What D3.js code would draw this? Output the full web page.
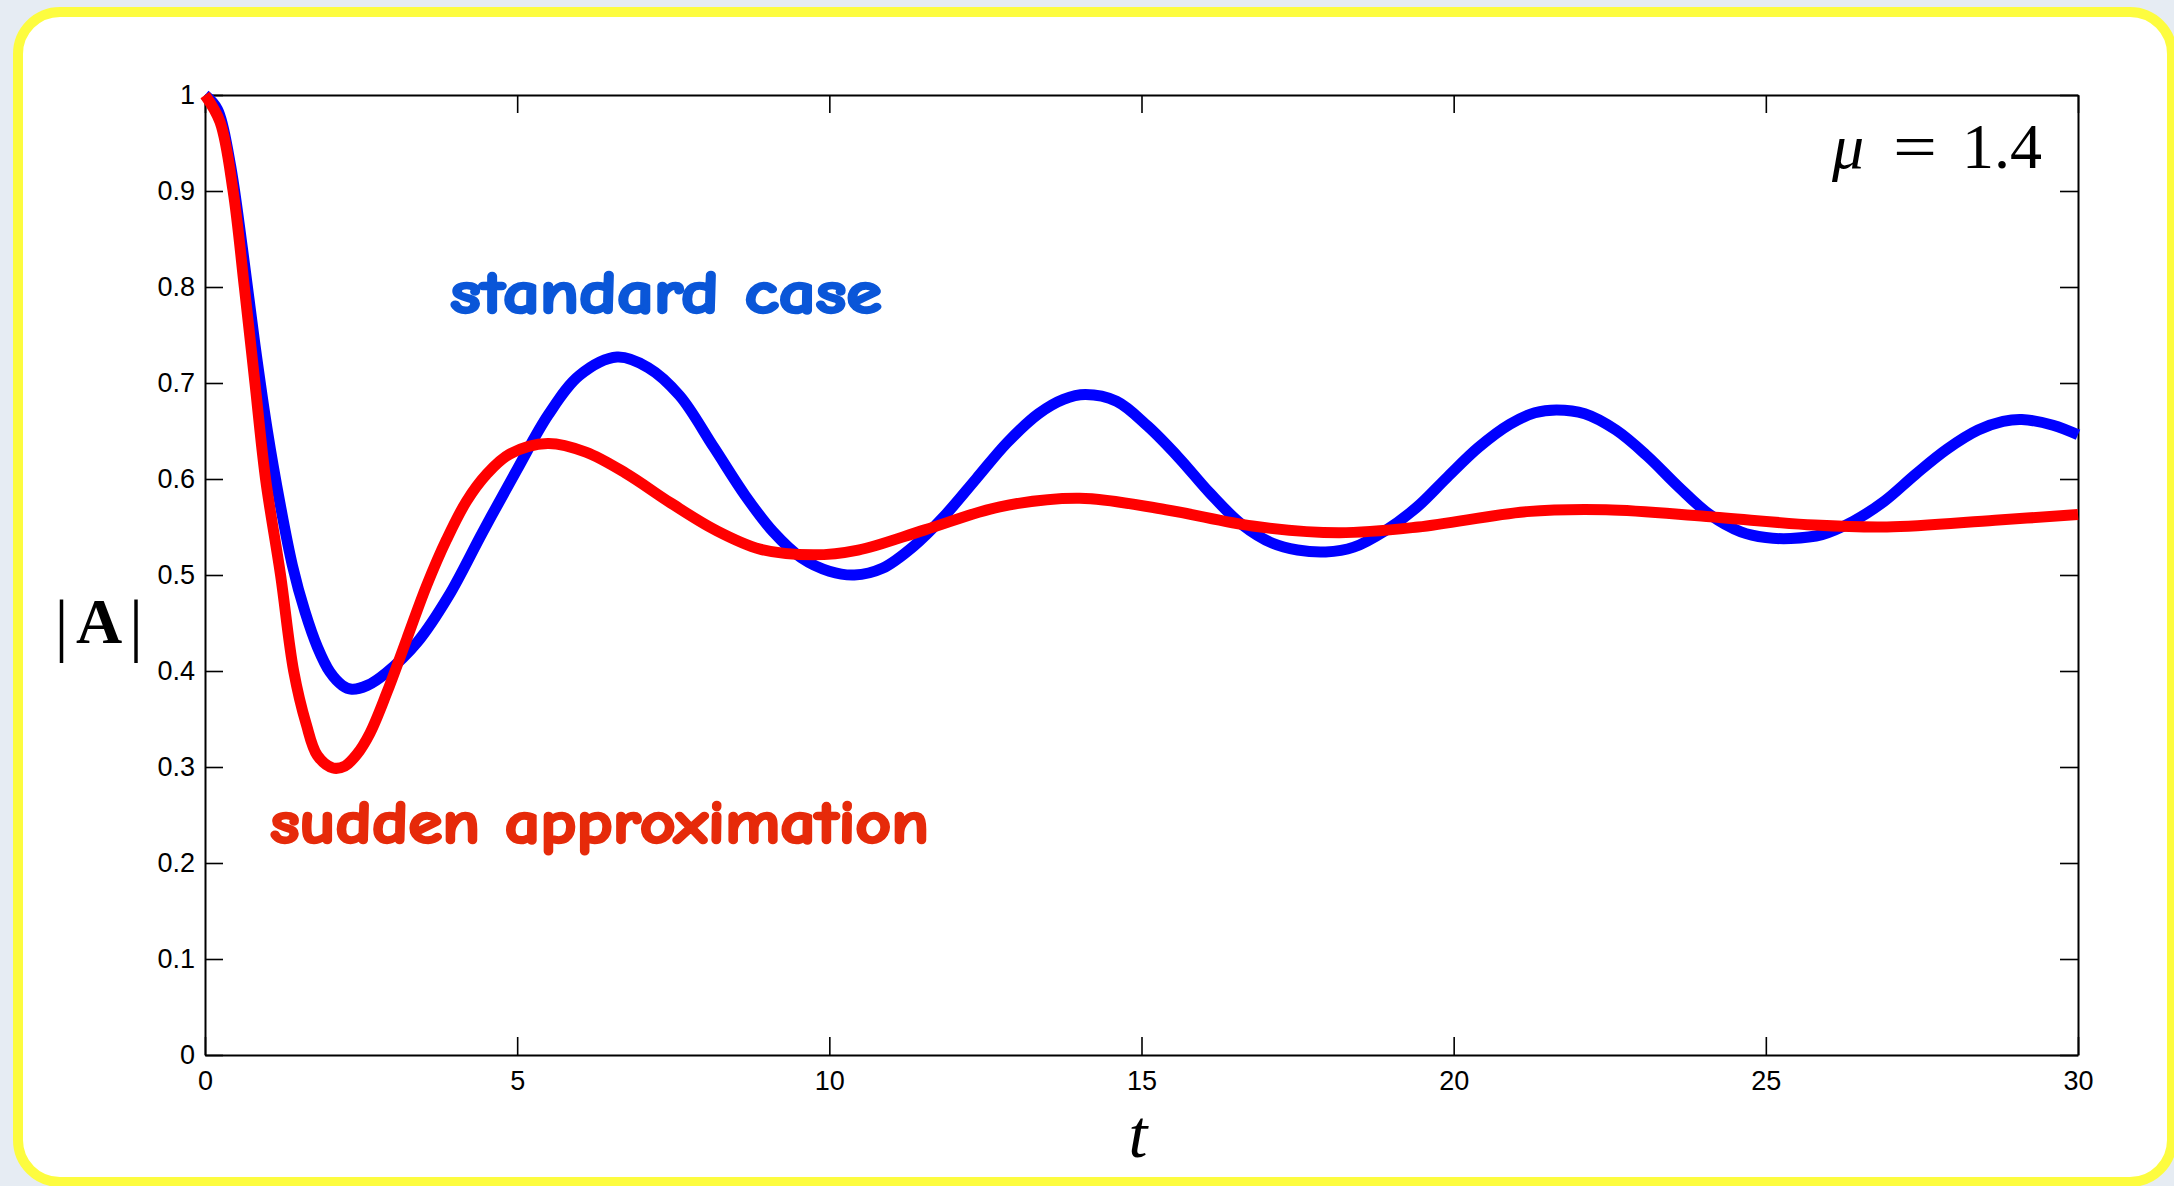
<!DOCTYPE html>
<html>
<head>
<meta charset="utf-8">
<script src="https://cdn.jsdelivr.net/npm/d3@7"></script>
<style>
  html, body { margin: 0; padding: 0; background: #e6ecf3; }
  svg { display: block; }
</style>
</head>
<body>
<svg id="chart" width="2174" height="1186"></svg>
<script>
// |A|(t) for mu = 1.4 — standard case
const standardT = [0, 0.2, 0.4, 0.6, 0.8, 1.0, 1.2, 1.4, 1.6, 1.8, 2.0, 2.2, 2.35, 2.6, 2.9, 3.4, 3.9, 4.45, 5.0, 5.5, 6.0, 6.6,
  7.1, 7.6, 8.15, 8.65, 9.1, 9.55, 10.0, 10.4, 10.85, 11.35, 11.85, 12.35, 12.85, 13.35, 13.75, 14.1,
  14.6, 15.1, 15.6, 16.1, 16.6, 17.1, 17.5, 17.95, 18.4, 18.9, 19.4, 19.9, 20.4, 20.9, 21.3, 21.65,
  22.1, 22.6, 23.1, 23.6, 24.1, 24.6, 25.0, 25.4, 25.9, 26.4, 26.9, 27.4, 27.9, 28.4, 28.8, 29.1, 29.6, 30];
const standardA = [1.0, 0.985, 0.93, 0.84, 0.74, 0.65, 0.575, 0.51, 0.462, 0.425, 0.399, 0.385, 0.381, 0.385, 0.398, 0.43, 0.478, 0.545, 0.61, 0.667, 0.708, 0.727,
  0.716, 0.687, 0.633, 0.583, 0.545, 0.518, 0.504, 0.500, 0.507, 0.530, 0.562, 0.600, 0.638, 0.668, 0.683, 0.688,
  0.681, 0.655, 0.622, 0.585, 0.553, 0.533, 0.526, 0.524, 0.529, 0.546, 0.570, 0.602, 0.633, 0.657, 0.669, 0.672,
  0.668, 0.651, 0.624, 0.592, 0.563, 0.545, 0.539, 0.538, 0.542, 0.556, 0.577, 0.605, 0.631, 0.651, 0.660, 0.662, 0.656, 0.646];

// |A|(t) — sudden approximation
const suddenT = [0, 0.24, 0.45, 0.63, 0.8, 0.97, 1.21, 1.42, 1.62, 1.8, 2.05, 2.24, 2.43, 2.64, 2.91, 3.23, 3.55, 3.87, 4.19,
  4.51, 4.88, 5.49, 6.1, 6.74, 7.46, 8.17, 8.89, 9.74, 10.46, 11.53, 12.73, 14.01, 15.39, 16.78, 18.16, 19.43,
  21.17, 22.44, 24.05, 25.78, 26.94, 28.67, 30];
const suddenA = [1.0, 0.972, 0.90, 0.80, 0.70, 0.60, 0.50, 0.40, 0.345, 0.312, 0.299, 0.301, 0.313, 0.335, 0.377, 0.433, 0.489, 0.537, 0.577,
  0.605, 0.626, 0.637, 0.628, 0.606, 0.575, 0.547, 0.527, 0.521, 0.526, 0.547, 0.571, 0.580, 0.568, 0.551, 0.544, 0.550,
  0.566, 0.568, 0.561, 0.552, 0.550, 0.557, 0.563];

const xTicks = [0, 5, 10, 15, 20, 25, 30];
const yTicks = [0, 0.1, 0.2, 0.3, 0.4, 0.5, 0.6, 0.7, 0.8, 0.9, 1];

const svg = d3.select("#chart");
const W = 2174, H = 1186;

// slide frame
svg.append("rect").attr("x", 0).attr("y", 0).attr("width", W).attr("height", H).attr("fill", "#e6ecf3");
svg.append("rect")
  .attr("x", 18).attr("y", 12).attr("width", 2154).attr("height", 1170)
  .attr("rx", 42).attr("ry", 42)
  .attr("fill", "#ffffff").attr("stroke", "#fdfc3f").attr("stroke-width", 10);

const plotLeft = 205, plotRight = 2078, plotTop = 95, plotBottom = 1055;
const x = d3.scaleLinear().domain([0, 30]).range([plotLeft, plotRight]);
const y = d3.scaleLinear().domain([0, 1]).range([plotBottom, plotTop]);

const tickFont = '"Liberation Sans", Arial, Helvetica, sans-serif';

function styleAxis(g) {
  g.select(".domain").attr("stroke", "#000").attr("stroke-width", 2);
  g.selectAll(".tick line").attr("stroke", "#000").attr("stroke-width", 1.6);
  g.selectAll(".tick text").attr("fill", "#000").style("font-family", tickFont).style("font-size", "27px");
}

svg.append("g").attr("transform", `translate(0,${plotBottom})`)
  .call(d3.axisBottom(x).tickValues(xTicks).tickSizeInner(-18).tickSizeOuter(0).tickPadding(16).tickFormat(d3.format("d")))
  .call(styleAxis);
svg.append("g").attr("transform", `translate(0,${plotTop})`)
  .call(d3.axisTop(x).tickValues(xTicks).tickSizeInner(-18).tickSizeOuter(0).tickFormat(""))
  .call(styleAxis);
svg.append("g").attr("transform", `translate(${plotLeft},0)`)
  .call(d3.axisLeft(y).tickValues(yTicks).tickSizeInner(-18).tickSizeOuter(0).tickPadding(10).tickFormat(d => String(+d.toFixed(1))))
  .call(styleAxis);
svg.append("g").attr("transform", `translate(${plotRight},0)`)
  .call(d3.axisRight(y).tickValues(yTicks).tickSizeInner(-18).tickSizeOuter(0).tickFormat(""))
  .call(styleAxis);

// curves
const line = d3.line().x(d => x(d[0])).y(d => y(d[1])).curve(d3.curveCatmullRom.alpha(0.5));
const standard = standardT.map((t, i) => [t, standardA[i]]);
const sudden = suddenT.map((t, i) => [t, suddenA[i]]);

svg.append("path").datum(standard).attr("d", line)
  .attr("fill", "none").attr("stroke", "#0000ff").attr("stroke-width", 11)
  .attr("stroke-linejoin", "round").attr("stroke-linecap", "butt");
svg.append("path").datum(sudden).attr("d", line)
  .attr("fill", "none").attr("stroke", "#ff0000").attr("stroke-width", 11)
  .attr("stroke-linejoin", "round").attr("stroke-linecap", "butt");

// axis titles
const serif = '"Liberation Serif", "DejaVu Serif", "Times New Roman", serif';
svg.append("text").attr("x", 1138).attr("y", 1157).attr("text-anchor", "middle")
  .style("font-family", serif).style("font-style", "italic").style("font-size", "68px").text("t");

svg.append("text").attr("x", 61.5).attr("y", 648).attr("text-anchor", "middle")
  .style("font-family", serif).style("font-size", "70px").text("|");
svg.append("text").attr("x", 99).attr("y", 643).attr("text-anchor", "middle")
  .style("font-family", serif).style("font-weight", "bold").style("font-size", "64px").text("A");
svg.append("text").attr("x", 136).attr("y", 648).attr("text-anchor", "middle")
  .style("font-family", serif).style("font-size", "70px").text("|");

// parameter label
svg.append("text").attr("x", 1832).attr("y", 168)
  .style("font-family", serif).style("font-style", "italic").style("font-size", "64px").text("μ");
svg.append("text").attr("x", 1893).attr("y", 168)
  .attr("textLength", 44).attr("lengthAdjust", "spacingAndGlyphs")
  .style("font-family", serif).style("font-size", "64px").text("=");
svg.append("text").attr("x", 2042).attr("y", 168).attr("text-anchor", "end")
  .style("font-family", serif).style("font-size", "64px").text("1.4");

// curve annotations
const casual = '"Comic Sans MS", "Comic Neue", Lato, "Open Sans", sans-serif';
svg.append("text").attr("x", 450).attr("y", 313)
  .attr("textLength", 432).attr("lengthAdjust", "spacingAndGlyphs")
  .style("font-family", casual).style("font-weight", "bold").style("font-size", "60px")
  .attr("fill", "#0a56d8").attr("stroke", "#0a56d8").attr("stroke-width", 2.5).attr("stroke-linejoin", "round")
  .text("standard case");
svg.append("text").attr("x", 270).attr("y", 843)
  .attr("textLength", 659).attr("lengthAdjust", "spacingAndGlyphs")
  .style("font-family", casual).style("font-weight", "bold").style("font-size", "60px")
  .attr("fill", "#e62a0a").attr("stroke", "#e62a0a").attr("stroke-width", 2.5).attr("stroke-linejoin", "round")
  .text("sudden approximation");
</script>
</body>
</html>
